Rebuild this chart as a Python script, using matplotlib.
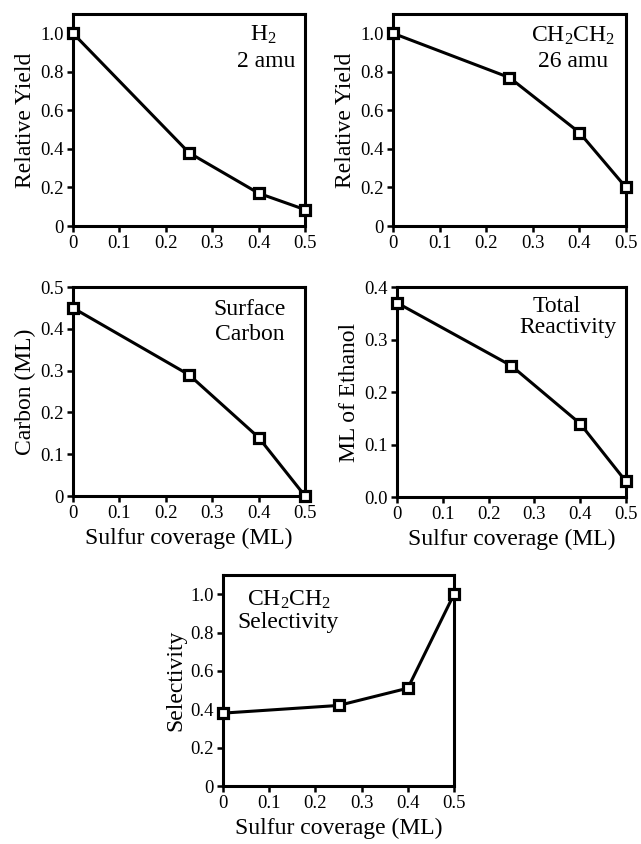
import matplotlib
matplotlib.use("Agg")
import matplotlib.pyplot as plt

plt.rcParams['font.family'] = ['Liberation Serif', 'DejaVu Serif']
plt.rcParams['mathtext.fontset'] = 'custom'
plt.rcParams['mathtext.rm'] = 'Liberation Serif'
plt.rcParams['mathtext.it'] = 'Liberation Serif:italic'
plt.rcParams['mathtext.bf'] = 'Liberation Serif:bold'

# sulfur coverage (ML)
sulfur = [0, 0.25, 0.4, 0.5]

h2_yield = [1.0, 0.38, 0.17, 0.085]
ethylene_yield = [1.0, 0.77, 0.485, 0.20]
surface_carbon = [0.45, 0.29, 0.14, 0.0]
total_reactivity = [0.37, 0.25, 0.14, 0.03]
selectivity = [0.38, 0.42, 0.51, 1.0]

xticks = [0, 0.1, 0.2, 0.3, 0.4, 0.5]
xticklabels = ['0', '0.1', '0.2', '0.3', '0.4', '0.5']
yticks_rel = [0, 0.2, 0.4, 0.6, 0.8, 1.0]
yticklabels_rel = ['0', '0.2', '0.4', '0.6', '0.8', '1.0']
yticks_carbon = [0, 0.1, 0.2, 0.3, 0.4, 0.5]
yticklabels_carbon = ['0', '0.1', '0.2', '0.3', '0.4', '0.5']
yticks_eth = [0, 0.1, 0.2, 0.3, 0.4]
yticklabels_eth = ['0.0', '0.1', '0.2', '0.3', '0.4']


def panel(fig, rect, y, ylim, yticks, yticklabels, ylabel, notes, xlabel=True):
    ax = fig.add_axes(rect)
    ax.plot(sulfur, y, color='black', lw=2.2, marker='s', ms=6.5,
            mfc='white', mec='black', mew=2.3, clip_on=False, zorder=5)
    ax.set_xlim(0, 0.5)
    ax.set_ylim(*ylim)
    ax.set_xticks(xticks)
    ax.set_xticklabels(xticklabels)
    ax.set_yticks(yticks)
    ax.set_yticklabels(yticklabels)
    for s in ax.spines.values():
        s.set_linewidth(2.2)
    ax.tick_params(direction='out', length=4.5, width=1.8, labelsize=13.5, pad=2)
    ax.set_ylabel(ylabel, fontsize=17, labelpad=3)
    if xlabel:
        ax.set_xlabel('Sulfur coverage (ML)', fontsize=17, labelpad=4)
    # panel label, one text per line (x, baseline y, string)
    for nx, ny, s in notes:
        ax.text(nx, ny, s, transform=ax.transAxes, fontsize=17,
                ha='center', va='baseline')
    return ax


fig = plt.figure(figsize=(6.41, 8.44), dpi=100)

panel(fig, [0.1139, 0.7322, 0.362, 0.2512], h2_yield, (0, 1.1),
      yticks_rel, yticklabels_rel, 'Relative Yield',
      [(0.819, 0.873, 'H$_2$'), (0.832, 0.75, '2 amu')], xlabel=False)
panel(fig, [0.6131, 0.7322, 0.3635, 0.2512], ethylene_yield, (0, 1.1),
      yticks_rel, yticklabels_rel, 'Relative Yield',
      [(0.773, 0.868, 'CH$_2$CH$_2$'), (0.773, 0.75, '26 amu')], xlabel=False)
panel(fig, [0.1139, 0.4123, 0.362, 0.2476], surface_carbon, (0, 0.5),
      yticks_carbon, yticklabels_carbon, 'Carbon (ML)',
      [(0.763, 0.866, 'Surface'), (0.763, 0.746, 'Carbon')])
panel(fig, [0.6193, 0.4111, 0.357, 0.2488], total_reactivity, (0, 0.4),
      yticks_eth, yticklabels_eth, 'ML of Ethanol',
      [(0.70, 0.881, 'Total'), (0.747, 0.781, 'Reactivity')])
panel(fig, [0.3479, 0.0687, 0.3604, 0.25], selectivity, (0, 1.1),
      yticks_rel, yticklabels_rel, 'Selectivity',
      [(0.286, 0.853, 'CH$_2$CH$_2$'), (0.281, 0.749, 'Selectivity')])

fig.savefig('out.png', dpi=100)
